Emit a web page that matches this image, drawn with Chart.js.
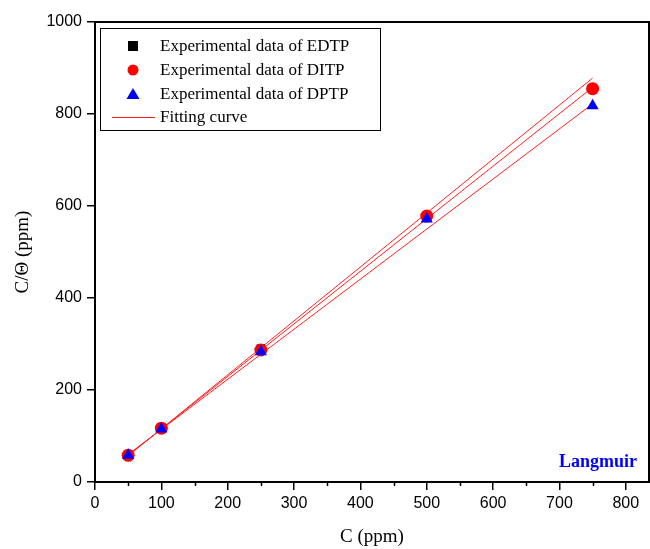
<!DOCTYPE html>
<html>
<head>
<meta charset="utf-8">
<script src="https://cdn.jsdelivr.net/npm/chart.js@4"></script>
<style>
  body { margin: 0; background: #fff; }
  #wrap { width: 650px; height: 549px; }
</style>
</head>
<body>
<div id="wrap"><canvas id="myChart" width="650" height="549"></canvas></div>
<script>
const concentrations = [50, 100, 250, 500, 750];
const edtpValues = [60, 118, 290, 578, 855];
const ditpValues = [58, 117, 287, 578, 855];
const dptpValues = [58, 115, 283, 572, 818];

// fitting lines, end points at C = 50 and C = 750
const fitX = [50, 750];
const fitTop = [57, 878];
const fitMid = [58, 858];
const fitLow = [60, 822];

const xTicks = [0, 100, 200, 300, 400, 500, 600, 700, 800];
const xMinorTicks = [50, 150, 250, 350, 450, 550, 650, 750];
const yTicks = [0, 200, 400, 600, 800, 1000];

const legendLabels = ['Experimental data of EDTP', 'Experimental data of DITP', 'Experimental data of DPTP', 'Fitting curve'];

const toPoints = (xs, ys) => xs.map((x, i) => ({ x: x, y: ys[i] }));

const fitDataset = (ys) => ({
  type: 'line',
  data: toPoints(fitX, ys),
  borderColor: '#ff2020',
  borderWidth: 1,
  pointRadius: 0,
  fill: false,
  order: 10
});

const serif = 'Liberation Serif, Times New Roman, serif';
const sans = 'Liberation Sans, Arial, sans-serif';

const extras = {
  id: 'extras',
  afterDraw(chart) {
    const c = chart.ctx;
    const a = chart.chartArea;
    const xs = chart.scales.x;
    c.save();
    // frame
    c.strokeStyle = '#000';
    c.lineWidth = 2;
    c.strokeRect(a.left, a.top, a.right - a.left, a.bottom - a.top);
    // minor ticks on x
    c.lineWidth = 1.5;
    xMinorTicks.forEach(v => {
      const px = Math.round(xs.getPixelForValue(v)) + 0.5;
      c.beginPath();
      c.moveTo(px, a.bottom);
      c.lineTo(px, a.bottom + 4);
      c.stroke();
    });
    // legend box
    const bx = 100, by = 28, bw = 280, bh = 102;
    c.lineWidth = 1;
    c.strokeRect(bx + 0.5, by + 0.5, bw, bh);
    const rows = [46, 70, 94, 117];
    c.font = '17px ' + serif;
    c.textBaseline = 'middle';
    c.fillStyle = '#000';
    legendLabels.forEach((t, i) => c.fillText(t, 160, rows[i] + 1));
    const mx = 133;
    c.fillStyle = '#000';
    c.fillRect(mx - 5, rows[0] - 5, 10, 10);
    c.fillStyle = '#ff0000';
    c.beginPath();
    c.arc(mx, rows[1], 5.5, 0, Math.PI * 2);
    c.fill();
    c.fillStyle = '#0000ff';
    c.beginPath();
    c.moveTo(mx, rows[2] - 6);
    c.lineTo(mx + 6.5, rows[2] + 5);
    c.lineTo(mx - 6.5, rows[2] + 5);
    c.closePath();
    c.fill();
    c.strokeStyle = '#ff2020';
    c.beginPath();
    c.moveTo(112, rows[3] + 0.5);
    c.lineTo(155, rows[3] + 0.5);
    c.stroke();
    // Langmuir label
    c.font = 'bold 18px ' + serif;
    c.fillStyle = '#0000ff';
    c.textAlign = 'center';
    c.fillText('Langmuir', 598, 462);
    c.restore();
  }
};

let ctx = document.querySelector('#myChart');

let grafico = new Chart(ctx, {
  type: 'scatter',
  data: {
    datasets: [
      {
        label: legendLabels[0],
        data: toPoints(concentrations, edtpValues),
        pointStyle: 'rect',
        pointRadius: 6,
        backgroundColor: '#000',
        borderWidth: 0,
        order: 3
      },
      {
        label: legendLabels[1],
        data: toPoints(concentrations, ditpValues),
        pointStyle: 'circle',
        pointRadius: 6.5,
        backgroundColor: '#ff0000',
        borderWidth: 0,
        order: 2
      },
      {
        label: legendLabels[2],
        data: toPoints(concentrations, dptpValues),
        pointStyle: 'triangle',
        pointRadius: 7,
        backgroundColor: '#0000ff',
        borderWidth: 0,
        order: 1
      },
      fitDataset(fitTop),
      fitDataset(fitMid),
      fitDataset(fitLow)
    ]
  },
  options: {
    responsive: false,
    animation: false,
    layout: { autoPadding: false, padding: { top: 22, right: 1, left: 0, bottom: 0 } },
    plugins: {
      legend: { display: false },
      tooltip: { enabled: false }
    },
    scales: {
      x: {
        type: 'linear',
        min: 0,
        max: 835,
        afterBuildTicks: (s) => { s.ticks = xTicks.map(v => ({ value: v })); },
        afterFit: (s) => { s.height = 67; s.paddingRight = 0; s.paddingLeft = 0; },
        grid: { drawOnChartArea: false, color: '#000', lineWidth: 1.5, tickLength: 8 },
        border: { display: false },
        ticks: { color: '#000', font: { family: sans, size: 16 }, padding: 4, maxRotation: 0, callback: (v) => String(v) },
        title: { display: true, text: 'C (ppm)', color: '#000', font: { family: serif, size: 19 }, padding: { top: 0, bottom: 1 } }
      },
      y: {
        type: 'linear',
        min: 0,
        max: 1000,
        afterBuildTicks: (s) => { s.ticks = yTicks.map(v => ({ value: v })); },
        afterFit: (s) => { s.width = 95; s.paddingTop = 0; s.paddingBottom = 0; },
        grid: { drawOnChartArea: false, color: '#000', lineWidth: 1.5, tickLength: 8 },
        border: { display: false },
        ticks: { color: '#000', font: { family: sans, size: 16 }, padding: 5, callback: (v) => String(v) },
        title: { display: true, text: 'C/Θ (ppm)', color: '#000', font: { family: serif, size: 19 }, padding: { top: 12, bottom: 0 } }
      }
    }
  },
  plugins: [extras]
});
</script>
</body>
</html>
